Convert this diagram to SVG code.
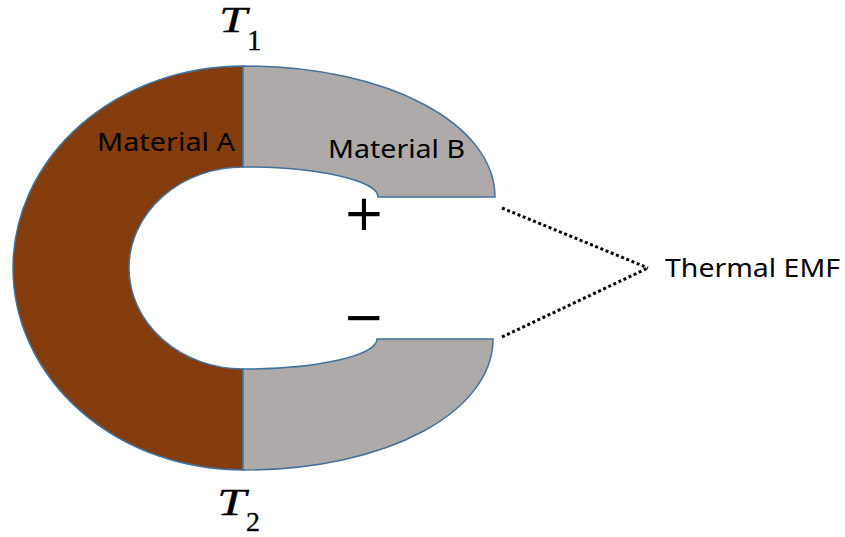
<svg xmlns="http://www.w3.org/2000/svg" width="845" height="537" viewBox="0 0 845 537">
<style>
.part{stroke:#41719C;stroke-width:1.5}
.lbl{font-family:"Noto Sans","Open Sans",sans-serif;font-size:26px;fill:#000}
.sign{font-family:"DejaVu Sans",sans-serif;font-size:50px;fill:#000;text-anchor:middle}
.dot{stroke:#000;stroke-width:3;stroke-dasharray:3 2.6;fill:none}
</style>
<rect width="845" height="537" fill="#fff"/>
<g id="materialA">
<path class="part" fill="#843C0C" d="M243 66 A230 202 0 0 0 243 470 L243 369 A114 101 0 0 1 243 167 Z"/>
<text class="lbl" x="97" y="151" textLength="138" lengthAdjust="spacingAndGlyphs">Material A</text>
</g>
<g id="materialB-top">
<path class="part" fill="#AEAAAA" d="M243 66 C390 66 495 125 495 197 L378 197 A135 30 0 0 0 243 167 Z"/>
<text class="lbl" x="328" y="158" textLength="137" lengthAdjust="spacingAndGlyphs">Material B</text>
</g>
<g id="materialB-bottom">
<path class="part" fill="#AEAAAA" d="M243 470 C389 470 493 411 493 339 L377 339 A134 30 0 0 1 243 369 Z"/>
</g>
<g id="plus"><text class="sign" x="364" y="230">+</text></g>
<g id="minus"><text class="sign" x="364" y="334">−</text></g>
<g id="T1">
<text x="219" y="32" font-family="Liberation Serif, serif" font-style="italic" font-size="36" fill="#000" stroke="#000" stroke-width="0.3" textLength="28" lengthAdjust="spacingAndGlyphs">T</text>
<text x="247" y="50" font-family="Liberation Serif, serif" font-size="29" fill="#000" stroke="#000" stroke-width="0.3">1</text>
</g>
<g id="T2">
<text x="217" y="515" font-family="Liberation Serif, serif" font-style="italic" font-size="37" fill="#000" stroke="#000" stroke-width="0.3" textLength="29" lengthAdjust="spacingAndGlyphs">T</text>
<text x="246" y="531" font-family="Liberation Serif, serif" font-size="28" fill="#000" stroke="#000" stroke-width="0.3">2</text>
</g>
<g id="thermalEMF"><text class="lbl" x="665" y="277" textLength="175" lengthAdjust="spacingAndGlyphs">Thermal EMF</text></g>
<g id="connectors">
<line class="dot" x1="502" y1="208" x2="648" y2="268"/>
<line class="dot" x1="502" y1="337" x2="648" y2="268"/>
</g>
</svg>
